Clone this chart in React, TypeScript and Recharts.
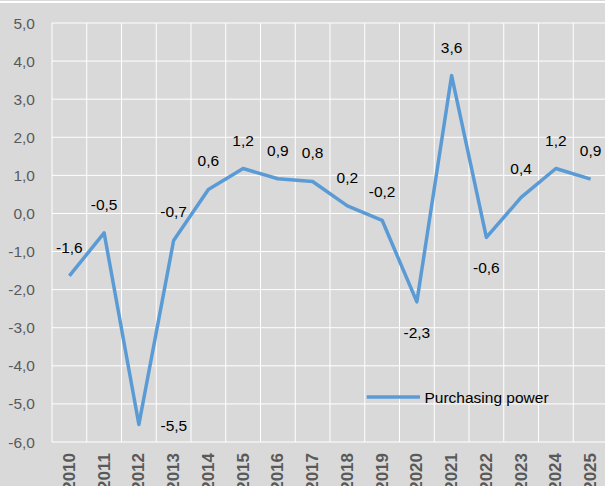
import React from 'react';
import { LineChart, Line, XAxis, YAxis, CartesianGrid, LabelList, Legend } from 'recharts';

const YEARS = [
  '2010', '2011', '2012', '2013', '2014', '2015', '2016', '2017',
  '2018', '2019', '2020', '2021', '2022', '2023', '2024', '2025'
];
const PURCHASING_POWER = [
  -1.64, -0.51, -5.54, -0.71, 0.63, 1.18, 0.91, 0.84,
  0.2, -0.18, -2.32, 3.62, -0.63, 0.42, 1.18, 0.9
];
const Y_TICKS = [-6, -5, -4, -3, -2, -1, 0, 1, 2, 3, 4, 5];
const SERIES_NAME = 'Purchasing power';

// where Excel put a few of the labels (default: above the point)
const LABEL_PLACE: Record<string, 'below' | 'right'> = {
  '2012': 'right',
  '2020': 'below',
  '2022': 'below'
};

const FONT = '"Liberation Sans", Arial, sans-serif';
const LINE_COLOR = '#5b9bd5';
const BG = '#d9d9d9';

const data = YEARS.map((year, i) => ({ year, value: PURCHASING_POWER[i] }));

const fmt = (v: number) => v.toFixed(1).replace('.', ',');

const YTick = ({ x, y, payload }: any) => (
  <text x={x} y={y} textAnchor="end" dominantBaseline="central" fill="#595959" fontSize={15.5} fontFamily={FONT}>
    {fmt(payload.value)}
  </text>
);

const XTick = ({ x, y, payload }: any) => (
  <text
    x={x}
    y={y}
    transform={`rotate(-90 ${x} ${y})`}
    textAnchor="end"
    dominantBaseline="central"
    fill="#595959"
    fontSize={17}
    fontWeight="bold"
    fontFamily={FONT}
  >
    {payload.value}
  </text>
);

const renderLabel = ({ x, y, value, index }: any) => {
  const place = LABEL_PLACE[YEARS[index]];
  let lx = x;
  let ly = y - 28.5;
  if (place === 'below') ly = y + 30.5;
  if (place === 'right') {
    lx = x + 35;
    ly = y + 1;
  }
  return (
    <text x={lx} y={ly} textAnchor="middle" dominantBaseline="central" fill="#000" fontSize={15.5} fontFamily={FONT}>
      {fmt(Math.round(value * 10) / 10)}
    </text>
  );
};

const LegendBox = () => (
  <svg width={200} height={20} style={{ display: 'block' }}>
    <line x1={0.7} x2={54} y1={10} y2={10} stroke={LINE_COLOR} strokeWidth={3.5} />
    <text x={58.5} y={10} dominantBaseline="central" fill="#000" fontSize={15.5} fontFamily={FONT}>
      {SERIES_NAME}
    </text>
  </svg>
);

export default function App() {
  return (
    <div
      style={{
        position: 'fixed',
        left: 0,
        top: 0,
        width: 605,
        height: 486,
        overflow: 'hidden',
        background: BG
      }}
    >
      <div style={{ position: 'absolute', left: 0, top: 1, width: 605, height: 2, background: '#fff' }} />
      <LineChart width={620} height={486} data={data} margin={{ top: 23, right: 12, bottom: 0, left: 0 }}>
        <CartesianGrid
          stroke="#fff"
          strokeWidth={1}
          verticalCoordinatesGenerator={({ offset }: any) =>
            Array.from({ length: YEARS.length + 1 }, (_, i) => offset.left + (i * offset.width) / YEARS.length)
          }
        />
        <XAxis
          dataKey="year"
          scale="band"
          interval={0}
          height={44}
          axisLine={false}
          tickLine={false}
          tickMargin={5}
          tick={<XTick />}
        />
        <YAxis
          width={52}
          domain={[-6, 5]}
          ticks={Y_TICKS}
          axisLine={false}
          tickLine={false}
          tickMargin={11}
          tick={<YTick />}
        />
        <Legend
          layout="horizontal"
          verticalAlign="middle"
          align="center"
          wrapperStyle={{ left: 366, top: 387, width: 200 }}
          content={() => <LegendBox />}
        />
        <Line
          type="linear"
          dataKey="value"
          name={SERIES_NAME}
          stroke={LINE_COLOR}
          strokeWidth={3.5}
          strokeLinejoin="round"
          dot={false}
          activeDot={false}
          isAnimationActive={false}
        >
          <LabelList dataKey="value" content={renderLabel} />
        </Line>
      </LineChart>
    </div>
  );
}
